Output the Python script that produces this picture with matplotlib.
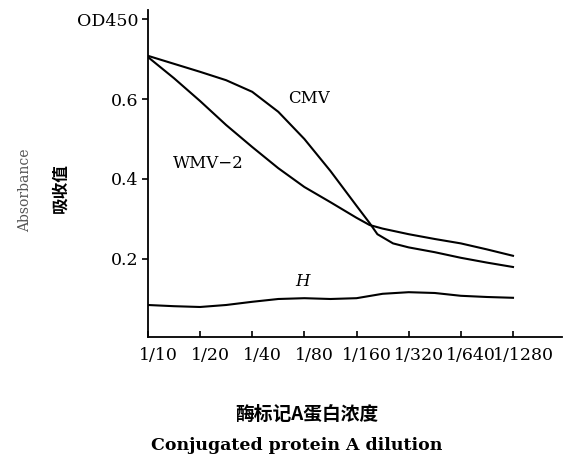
import numpy as np
import matplotlib.pyplot as plt
from matplotlib.transforms import ScaledTranslation

# dilution steps 1/10 ... 1/1280; curve values
dilutions = ['1/10', '1/20', '1/40', '1/80', '1/160', '1/320', '1/640', '1/1280']

cmv_step = [0, 0.5, 1, 1.5, 2, 2.5, 3, 3.5, 4, 4.25, 4.4, 4.7, 5, 5.5, 6, 6.5, 7]
cmv = [0.708, 0.688, 0.668, 0.647, 0.618, 0.568, 0.50, 0.42, 0.333, 0.29, 0.262,
       0.239, 0.229, 0.217, 0.203, 0.191, 0.18]

wmv2_step = [0, 0.5, 1, 1.5, 2, 2.5, 3, 3.5, 4, 4.25, 4.5, 5, 5.5, 6, 6.5, 7]
wmv2 = [0.705, 0.652, 0.595, 0.535, 0.48, 0.427, 0.38, 0.342, 0.303, 0.285, 0.276,
        0.262, 0.25, 0.239, 0.224, 0.208]

h_step = [0, 0.5, 1, 1.5, 2, 2.5, 3, 3.5, 4, 4.5, 5, 5.5, 6, 6.5, 7]
h_ctrl = [0.085, 0.082, 0.08, 0.085, 0.093, 0.10, 0.102, 0.10, 0.102, 0.113, 0.117,
          0.115, 0.108, 0.105, 0.103]

yticks = [0.2, 0.4, 0.6, 0.8]
ytick_labels = ['0.2', '0.4', '0.6', 'OD450']

serif = 'DejaVu Serif'
cjk = ['Noto Sans CJK SC', 'DejaVu Sans']

fig = plt.figure(figsize=(5.8, 4.57), dpi=100)
ax = fig.add_axes([0.255, 0.2626, 0.714, 0.7155])

ax.plot(cmv_step, cmv, color='black', lw=1.5)
ax.plot(wmv2_step, wmv2, color='black', lw=1.5)
ax.plot(h_step, h_ctrl, color='black', lw=1.5)

ax.set_xlim(0, 7.94)
ax.set_ylim(0.005, 0.8225)

ax.spines['top'].set_visible(False)
ax.spines['right'].set_visible(False)
ax.spines['left'].set_linewidth(1.3)
ax.spines['bottom'].set_linewidth(1.3)

ax.set_xticks(range(len(dilutions)))
ax.set_xticklabels(dilutions, family=serif, fontsize=12.5)
ax.tick_params(axis='x', direction='in', length=4, width=1.2, pad=7)
shift = ScaledTranslation(10 / 100, 0, fig.dpi_scale_trans)
for lab in ax.get_xticklabels():
    lab.set_transform(lab.get_transform() + shift)

ax.set_yticks(yticks)
ax.set_yticklabels(ytick_labels, family=serif, fontsize=12.5)
ax.tick_params(axis='y', direction='out', length=4, width=1.2, pad=3)

# curve labels
ax.text(3.09, 0.602, 'CMV', family=serif, fontsize=12, ha='center', va='center')
ax.text(1.15, 0.44, 'WMV\u22122', family=serif, fontsize=12, ha='center', va='center')
ax.text(2.97, 0.144, 'H', family=serif, fontsize=12, style='italic', ha='center', va='center')

# axis titles
fig.text(25 / 580, 1 - 190 / 457, 'Absorbance', rotation=90, family=serif,
         fontsize=10, color='#555555', ha='center', va='center')
fig.text(60 / 580, 1 - 188 / 457, '吸收值', rotation=90, family=cjk,
         fontsize=12, fontweight='bold', ha='center', va='center')
fig.text(307 / 580, 1 - 414 / 457, '酶标记A蛋白浓度', family=cjk,
         fontsize=13.5, fontweight='bold', ha='center', va='center')
fig.text(297 / 580, 1 - 446 / 457, 'Conjugated protein A dilution', family=serif,
         fontsize=12.5, fontweight='bold', ha='center', va='center')

fig.savefig('out.png', dpi=100)
